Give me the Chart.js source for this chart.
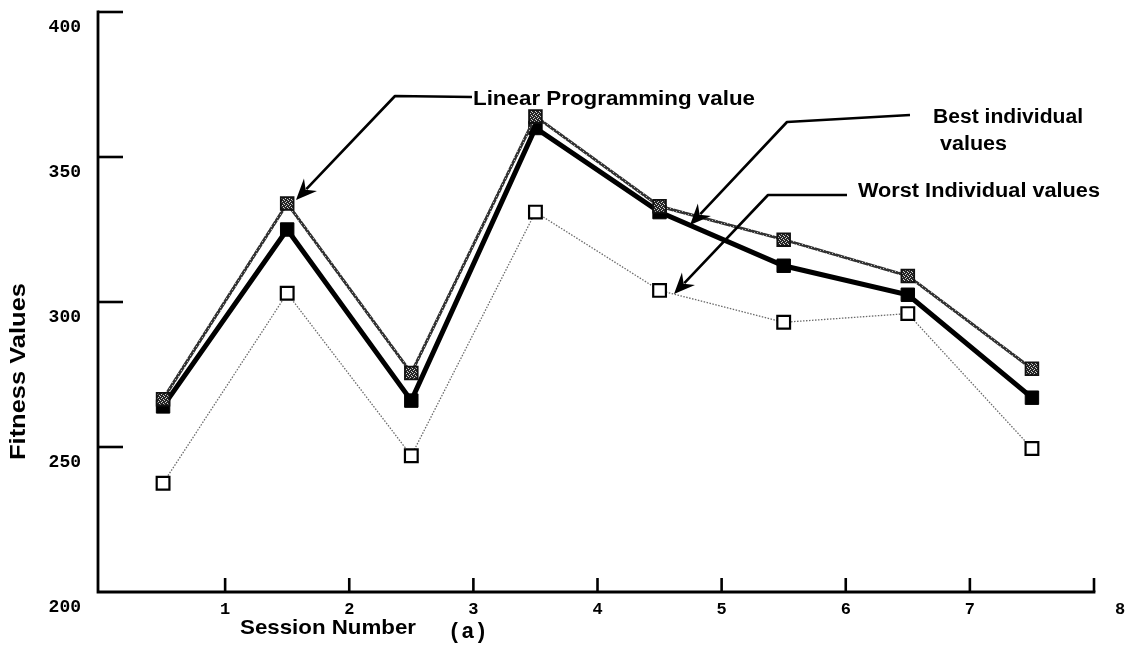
<!DOCTYPE html>
<html>
<head>
<meta charset="utf-8">
<script src="https://cdn.jsdelivr.net/npm/chart.js@4/dist/chart.umd.min.js"></script>
<style>
  html, body { margin: 0; padding: 0; background: #fff; }
  #wrap { width: 1130px; height: 652px; position: relative; }
</style>
</head>
<body>
<div id="wrap"><canvas id="c" width="1130" height="652"></canvas></div>
<script>
// ---- data ----
const sessionX = [0.5, 1.5, 2.5, 3.5, 4.5, 5.5, 6.5, 7.5];
const lpValues    = [266.5, 334, 275.5, 364, 333, 321.5, 309, 277];
const bestValues  = [264, 325, 266, 360, 331, 312.5, 302.5, 267];
const worstValues = [237.5, 303, 247, 331, 304, 293, 296, 249.5];
const xTickLabels = [1, 2, 3, 4, 5, 6, 7, 8];
const yTickLabels = [200, 250, 300, 350, 400];

const toPts = (vals) => vals.map((v, i) => ({ x: sessionX[i], y: v }));

function makePattern(bg, fg, size, dots) {
  const c = document.createElement('canvas');
  c.width = size; c.height = size;
  const g = c.getContext('2d');
  g.fillStyle = bg; g.fillRect(0, 0, size, size);
  g.fillStyle = fg;
  dots.forEach(d => g.fillRect(d[0], d[1], 1, 1));
  return g.createPattern(c, 'repeat');
}
const markerPattern = makePattern('#262626', '#d0d0d0', 4, [[0,0],[2,1],[1,2],[3,3]]);
const linePattern = makePattern('#333333', '#b5b5b5', 3, [[1,1]]);

function fitText(ctx, text, left, cy, width, font) {
  ctx.save();
  ctx.font = font;
  const w = ctx.measureText(text).width;
  ctx.translate(left, cy);
  ctx.scale(width / w, 1);
  ctx.textAlign = 'left';
  ctx.textBaseline = 'middle';
  ctx.fillStyle = '#000';
  ctx.fillText(text, 0, 0);
  ctx.restore();
}

function arrow(ctx, pts) {
  ctx.save();
  ctx.strokeStyle = '#000';
  ctx.fillStyle = '#000';
  ctx.lineWidth = 2.6;
  ctx.lineJoin = 'round';
  ctx.beginPath();
  ctx.moveTo(pts[0][0], pts[0][1]);
  for (let i = 1; i < pts.length - 1; i++) ctx.lineTo(pts[i][0], pts[i][1]);
  const a = pts[pts.length - 2], b = pts[pts.length - 1];
  const ang = Math.atan2(b[1] - a[1], b[0] - a[0]);
  const L = 21, W = 9;
  const c = Math.cos(ang), s = Math.sin(ang);
  ctx.lineTo(b[0] - c * (L - 6), b[1] - s * (L - 6));
  ctx.stroke();
  ctx.beginPath();
  ctx.moveTo(b[0], b[1]);
  ctx.lineTo(b[0] - c * L - s * W, b[1] - s * L + c * W);
  ctx.lineTo(b[0] - c * (L - 7), b[1] - s * (L - 7));
  ctx.lineTo(b[0] - c * L + s * W, b[1] - s * L - c * W);
  ctx.closePath();
  ctx.fill();
  ctx.restore();
}

const axesPlugin = {
  id: 'axesPlugin',
  beforeDatasetsDraw(chart) {
    const { ctx, scales: { x, y } } = chart;
    const x0 = x.getPixelForValue(0) - 3;
    const yBot = y.getPixelForValue(200);
    const yTop = y.getPixelForValue(400);
    const xEnd = x.getPixelForValue(8);
    ctx.save();
    ctx.strokeStyle = '#000';
    ctx.lineWidth = 2.8;
    ctx.lineCap = 'square';
    ctx.beginPath();
    ctx.moveTo(x0, yTop); ctx.lineTo(x0, yBot); ctx.lineTo(xEnd, yBot);
    ctx.stroke();
    // y ticks (inward)
    ctx.lineWidth = 2.6;
    ctx.lineCap = 'butt';
    yTickLabels.forEach(v => {
      if (v === 200) return;
      const py = y.getPixelForValue(v);
      ctx.beginPath(); ctx.moveTo(x0, py); ctx.lineTo(x0 + 25, py); ctx.stroke();
    });
    // x ticks (inward)
    xTickLabels.forEach(v => {
      const px = x.getPixelForValue(v);
      ctx.beginPath(); ctx.moveTo(px, yBot); ctx.lineTo(px, yBot - 14); ctx.stroke();
    });
    // tick labels
    ctx.fillStyle = '#000';
    ctx.font = "bold 18px 'Liberation Mono', 'DejaVu Sans Mono', monospace";
    ctx.textAlign = 'right';
    ctx.textBaseline = 'middle';
    yTickLabels.forEach(v => {
      ctx.fillText(String(v), 81, y.getPixelForValue(v) + 15);
    });
    ctx.font = "bold 17px 'Liberation Mono', 'DejaVu Sans Mono', monospace";
    ctx.textAlign = 'center';
    xTickLabels.forEach((v, i) => {
      const shift = (i === xTickLabels.length - 1) ? 26 : 0;
      ctx.fillText(String(v), x.getPixelForValue(v) + shift, yBot + 18);
    });
    ctx.restore();
  },
  afterDraw(chart) {
    const { ctx } = chart;
    const sans = "'Liberation Sans', Arial, Helvetica, sans-serif";
    // axis titles
    fitText(ctx, 'Session Number', 240, 628, 176, 'bold 21px ' + sans);
    ctx.save();
    ctx.translate(19, 460);
    ctx.rotate(-Math.PI / 2);
    fitText(ctx, 'Fitness Values', 0, 0, 177, 'bold 22px ' + sans);
    ctx.restore();
    ctx.save();
    ctx.font = "bold 22px 'Liberation Mono', 'DejaVu Sans Mono', monospace";
    ctx.fillStyle = '#000';
    ctx.textAlign = 'left';
    ctx.textBaseline = 'middle';
    ctx.fillText('(a)', 448, 632);
    ctx.restore();
    // annotations
    fitText(ctx, 'Linear Programming value', 473, 99, 282, 'bold 20px ' + sans);
    fitText(ctx, 'Best individual', 933, 117, 150, 'bold 20px ' + sans);
    fitText(ctx, 'values', 940, 144, 67, 'bold 20px ' + sans);
    fitText(ctx, 'Worst Individual values', 858, 191, 242, 'bold 20px ' + sans);
    arrow(ctx, [[472, 97], [395, 96], [296, 200]]);
    arrow(ctx, [[910, 115], [787, 122], [690, 225]]);
    arrow(ctx, [[847, 195], [768, 195], [674, 294]]);
  }
};

new Chart(document.getElementById('c'), {
  type: 'line',
  data: {
    datasets: [
      {
        label: 'Worst Individual values',
        data: toPts(worstValues),
        borderColor: '#6a6a6a',
        borderWidth: 1.3,
        borderDash: [1.5, 1.5],
        pointStyle: 'rect',
        pointRadius: 9,
        pointBackgroundColor: '#fff',
        pointBorderColor: '#000',
        pointBorderWidth: 2.2,
        order: 3
      },
      {
        label: 'Linear Programming value',
        data: toPts(lpValues),
        borderColor: linePattern,
        borderWidth: 3,
        pointStyle: 'rect',
        pointRadius: 9,
        pointBackgroundColor: markerPattern,
        pointBorderColor: '#111',
        pointBorderWidth: 1.8,
        order: 1
      },
      {
        label: 'Best individual values',
        data: toPts(bestValues),
        borderColor: '#000',
        borderWidth: 5,
        pointStyle: 'rect',
        pointRadius: 9.5,
        pointBackgroundColor: '#000',
        pointBorderColor: '#000',
        pointBorderWidth: 1,
        order: 2
      }
    ]
  },
  options: {
    responsive: false,
    animation: false,
    devicePixelRatio: 1,
    layout: { padding: { left: 101, right: 36, top: 12, bottom: 60 } },
    plugins: { legend: { display: false }, tooltip: { enabled: false } },
    elements: { line: { tension: 0 } },
    scales: {
      x: { type: 'linear', min: 0, max: 8, display: false },
      y: { type: 'linear', min: 200, max: 400, display: false }
    }
  },
  plugins: [axesPlugin]
});
</script>
</body>
</html>
